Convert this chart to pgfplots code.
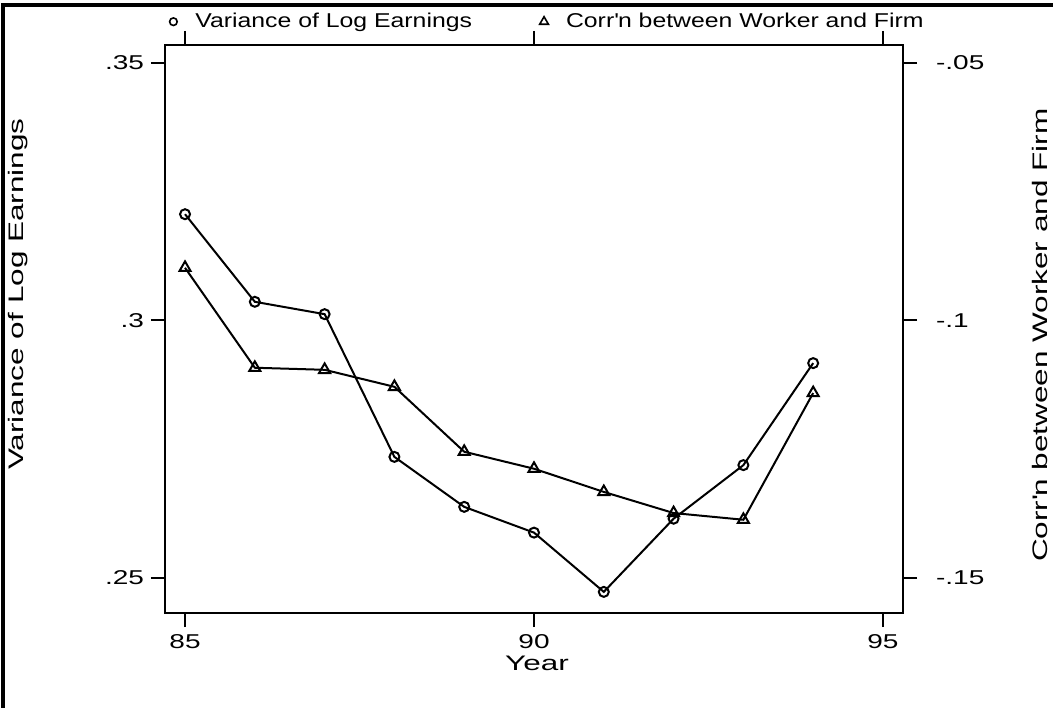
\documentclass[border=0pt]{standalone}
\usepackage{fontspec}
\setmainfont{Liberation Sans}[FakeStretch=1.24]
\newfontfamily\tickfont{Liberation Sans}[FakeStretch=1.4]
\newfontfamily\titlefont{Liberation Sans}[FakeStretch=1.5]
\usepackage{pgfplots}
\pgfplotsset{compat=1.18}
\usepackage{pgfplotstable}

\pgfplotstableread{
year var
85 0.3206
86 0.3036
87 0.3012
88 0.2735
89 0.2638
90 0.2588
91 0.2473
92 0.2615
93 0.2719
94 0.2917
}\vardata

\pgfplotstableread{
year corr
85 -0.0898
86 -0.1092
87 -0.1096
88 -0.1129
89 -0.1255
90 -0.1288
91 -0.1333
92 -0.1374
93 -0.1387
94 -0.1141
}\corrdata

\pgfplotsset{
  common/.style={
    at={(0,0)}, anchor=south west, scale only axis,
    width=369pt, height=284pt,
    xmin=84.713, xmax=95.287,
    tick align=outside,
    major tick length=7pt,
    every tick/.style={black, line width=1pt},
    axis line style={line width=1pt},
    /pgf/number format/assume math mode=true,
    ticklabel style={font=\tickfont\fontsize{10}{12}\selectfont},
    label style={font=\titlefont\fontsize{10.5}{12}\selectfont},
  }
}

\begin{document}
\begin{tikzpicture}
\useasboundingbox (-82.5pt,-47pt) rectangle (444pt,306.5pt);
\draw[line width=1.65pt] (-81pt,-60pt) -- (-81pt,304pt) -- (460pt,304pt);

\begin{axis}[common,
  ymin=0.2432, ymax=0.35344,
  xtick={85,90,95}, xticklabels={85,90,95},
  xtick pos=both, xticklabel pos=bottom,
  ytick={0.25,0.3,0.35}, yticklabels={.25,.3,.35},
  ytick pos=left,
  xlabel={Year},
  xlabel style={at={(axis description cs:0.504,-0.088)}, anchor=center},
  ylabel={Variance of Log Earnings},
  ylabel style={at={(axis description cs:-0.199,0.5616)}, anchor=center},
  legend columns=2,
  legend style={draw=none, fill=none, inner sep=0pt,
    at={(axis description cs:0,1.041)}, anchor=west,
    font=\fontsize{10}{12}\selectfont,
    /tikz/every even column/.append style={column sep=30pt}},
  legend image code/.code={\path[draw=none] (0pt,0pt) -- (13pt,0pt);
    \draw[mark repeat=2,mark phase=2,#1] plot coordinates {(0pt,0pt) (4pt,0pt) (13pt,0pt)};},
]
\addlegendimage{only marks, mark=o, mark size=1.9pt, mark options={line width=0.8pt}}
\addlegendentry{Variance of Log Earnings}
\addlegendimage{only marks, mark=triangle, mark size=2.5pt, mark options={line width=0.8pt}}
\addlegendentry{Corr\textquotesingle n between Worker and Firm}
\addplot[black, line width=1pt, mark=o, mark size=2.5pt,
  mark options={fill=white, line width=1pt}, forget plot]
  table[x=year, y=var] {\vardata};
\end{axis}

\begin{axis}[common,
  ymin=-0.1568, ymax=-0.04656,
  axis x line=none, axis y line*=right,
  ytick={-0.15,-0.1,-0.05}, yticklabels={-.15,-.1,-.05},
  yticklabel style={xshift=6pt},
  ylabel={Corr\textquotesingle n between Worker and Firm},
  ylabel style={at={(axis description cs:1.186,0.489)}, anchor=center},
]
\addplot[black, line width=1pt, mark=triangle, mark size=3.2pt,
  mark options={fill=white, line width=1pt}]
  table[x=year, y=corr] {\corrdata};
\end{axis}
\end{tikzpicture}
\end{document}
